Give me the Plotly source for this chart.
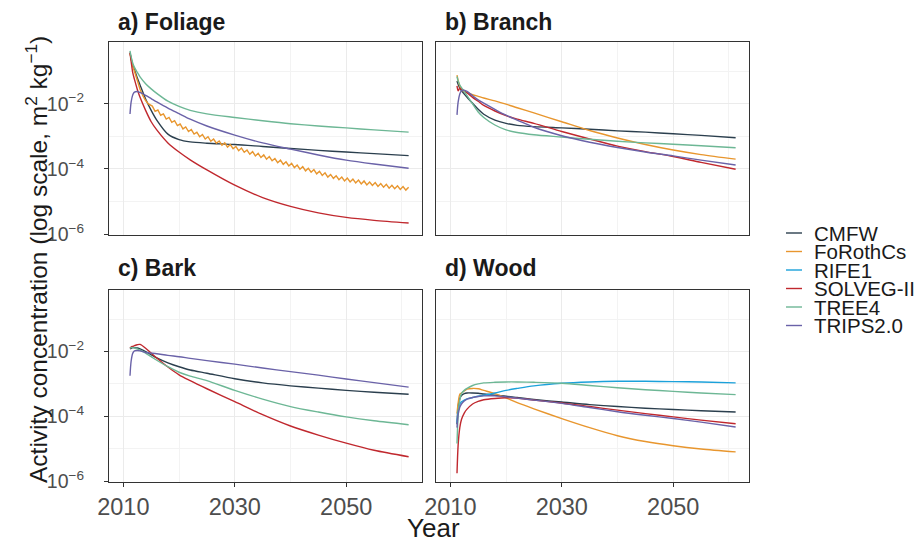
import numpy as np
import plotly.graph_objects as go

# ---------------- data (log10 of activity concentration, m2 kg-1) ----------------
models = ["CMFW", "FoRothCs", "RIFE1", "SOLVEG-II", "TREE4", "TRIPS2.0"]
colors = ["#2B3F4E", "#E8962E", "#1BA1DA", "#C0282E", "#6DB795", "#6A62A8"]
panel_titles = ["a) Foliage", "b) Branch", "c) Bark", "d) Wood"]
x_tick_vals = [2010, 2030, 2050]
x_minor_vals = [2020, 2040, 2060]
y_tick_exps = [-6, -4, -2]
y_minor_exps = [-5, -3, -1]

years = [2011.2, 2011.4, 2011.7, 2012, 2012.5, 2013, 2014, 2015, 2016, 2018,
         2020, 2022, 2025, 2030, 2035, 2040, 2045, 2050, 2055, 2061.2]

# a) Foliage
foliage_CMFW = [-0.43, -0.60, -0.82, -0.95, -1.20, -1.42, -1.85, -2.20, -2.50, -2.93,
                -3.10, -3.17, -3.21, -3.25, -3.31, -3.37, -3.43, -3.48, -3.53, -3.59]
foliage_SOLVEG = [-0.43, -0.70, -1.05, -1.25, -1.55, -1.80, -2.20, -2.55, -2.80, -3.20,
                  -3.48, -3.72, -4.03, -4.50, -4.88, -5.15, -5.35, -5.49, -5.58, -5.66]
foliage_TREE4 = [-0.37, -0.55, -0.75, -0.88, -1.03, -1.17, -1.38, -1.54, -1.68, -1.92,
                 -2.08, -2.20, -2.31, -2.42, -2.52, -2.61, -2.68, -2.74, -2.80, -2.87]
foliage_TRIPS = [-2.31, -1.95, -1.72, -1.64, -1.62, -1.65, -1.74, -1.84, -1.94, -2.13,
                 -2.30, -2.47, -2.68, -2.96, -3.20, -3.39, -3.57, -3.73, -3.85, -3.98]
# FoRothCs foliage: early decline, then annual peaks (year+0.2) and troughs (year+0.7)
foliage_FoRoth_early_years = [2011.2, 2011.4, 2011.7, 2012, 2012.5, 2013, 2013.5, 2014, 2014.5]
foliage_FoRoth_early = [-0.45, -0.62, -0.85, -1.00, -1.30, -1.55, -1.75, -1.90, -2.00]
foliage_FoRoth_peaks = [-2.07, -2.19, -2.31, -2.42, -2.52, -2.62, -2.71, -2.79, -2.87, -2.94,
                        -3.01, -3.08, -3.14, -3.20, -3.25, -3.31, -3.36, -3.42, -3.47, -3.52,
                        -3.57, -3.62, -3.68, -3.73, -3.78, -3.83, -3.88, -3.93, -3.98, -4.02,
                        -4.07, -4.12, -4.17, -4.21, -4.25, -4.28, -4.31, -4.34, -4.37, -4.40,
                        -4.42, -4.45, -4.47, -4.50, -4.52, -4.54, -4.56]
foliage_FoRoth_troughs = [-2.23, -2.35, -2.47, -2.57, -2.67, -2.77, -2.85, -2.93, -3.01, -3.08,
                          -3.15, -3.21, -3.27, -3.33, -3.38, -3.44, -3.49, -3.55, -3.60, -3.65,
                          -3.70, -3.75, -3.81, -3.86, -3.91, -3.96, -4.01, -4.06, -4.10, -4.15,
                          -4.20, -4.25, -4.29, -4.33, -4.37, -4.40, -4.43, -4.46, -4.49, -4.51,
                          -4.54, -4.56, -4.59, -4.61, -4.63, -4.65]

# b) Branch
branch_CMFW = [-1.30, -1.40, -1.52, -1.60, -1.70, -1.80, -1.98, -2.17, -2.32, -2.50,
               -2.60, -2.66, -2.70, -2.74, -2.78, -2.83, -2.87, -2.92, -2.97, -3.04]
branch_FoRoth = [-1.12, -1.28, -1.45, -1.55, -1.62, -1.66, -1.72, -1.77, -1.82, -1.91,
                 -2.01, -2.12, -2.28, -2.55, -2.82, -3.05, -3.25, -3.42, -3.56, -3.70]
branch_SOLVEG = [-1.45, -1.60, -1.52, -1.55, -1.60, -1.66, -1.80, -1.92, -2.05, -2.22,
                 -2.36, -2.47, -2.60, -2.85, -3.08, -3.30, -3.47, -3.62, -3.80, -4.01]
branch_TREE4 = [-1.16, -1.30, -1.42, -1.50, -1.62, -1.75, -2.00, -2.25, -2.42, -2.65,
                -2.80, -2.88, -2.95, -3.02, -3.09, -3.15, -3.20, -3.24, -3.29, -3.35]
branch_TRIPS = [-2.34, -1.95, -1.70, -1.60, -1.58, -1.62, -1.75, -1.88, -1.98, -2.17,
                -2.35, -2.50, -2.72, -2.98, -3.18, -3.34, -3.48, -3.60, -3.73, -3.88]

# c) Bark
bark_CMFW = [-1.92, -1.90, -1.88, -1.88, -1.89, -1.92, -2.00, -2.10, -2.20, -2.35,
             -2.47, -2.57, -2.67, -2.84, -2.97, -3.06, -3.13, -3.20, -3.26, -3.32]
bark_SOLVEG = [-1.90, -1.86, -1.84, -1.82, -1.79, -1.78, -1.90, -2.05, -2.20, -2.48,
               -2.72, -2.90, -3.15, -3.55, -3.95, -4.30, -4.58, -4.83, -5.05, -5.25]
bark_TREE4 = [-1.90, -1.88, -1.88, -1.89, -1.92, -1.96, -2.05, -2.16, -2.27, -2.47,
              -2.64, -2.76, -2.90, -3.20, -3.47, -3.70, -3.87, -4.02, -4.14, -4.26]
bark_TRIPS = [-2.75, -2.30, -2.05, -1.98, -1.97, -1.98, -2.03, -2.05, -2.07, -2.12,
              -2.16, -2.21, -2.28, -2.39, -2.51, -2.62, -2.73, -2.85, -2.96, -3.10]

# d) Wood
wood_CMFW = [-4.25, -3.70, -3.45, -3.36, -3.30, -3.28, -3.28, -3.29, -3.31, -3.35,
             -3.38, -3.42, -3.48, -3.56, -3.64, -3.70, -3.75, -3.79, -3.83, -3.87]
wood_FoRoth = [-3.92, -3.60, -3.32, -3.28, -3.22, -3.16, -3.14, -3.15, -3.20, -3.30,
               -3.43, -3.58, -3.77, -4.07, -4.35, -4.60, -4.78, -4.91, -5.01, -5.10]
wood_RIFE1 = [-4.20, -3.85, -3.62, -3.55, -3.50, -3.46, -3.42, -3.38, -3.35, -3.28,
              -3.20, -3.14, -3.06, -2.98, -2.94, -2.92, -2.92, -2.93, -2.94, -2.97]
wood_SOLVEG = [-5.76, -4.90, -4.35, -4.10, -3.90, -3.78, -3.62, -3.54, -3.49, -3.45,
               -3.43, -3.44, -3.50, -3.59, -3.70, -3.81, -3.92, -4.02, -4.12, -4.23]
wood_TREE4 = [-4.84, -4.00, -3.50, -3.30, -3.20, -3.14, -3.05, -3.00, -2.97, -2.95,
              -2.94, -2.94, -2.95, -2.98, -3.05, -3.12, -3.18, -3.23, -3.28, -3.33]
wood_TRIPS = [-4.35, -3.95, -3.72, -3.62, -3.53, -3.47, -3.42, -3.39, -3.37, -3.37,
              -3.40, -3.44, -3.50, -3.60, -3.73, -3.86, -3.97, -4.07, -4.18, -4.33]

# ---------------- assemble ----------------
peak_years = [y + 0.2 for y in range(2015, 2062)]
trough_years = [y + 0.7 for y in range(2015, 2061)]
zig_pts = sorted(list(zip(peak_years, foliage_FoRoth_peaks)) + list(zip(trough_years, foliage_FoRoth_troughs)))
foliage_FoRoth_years = foliage_FoRoth_early_years + [p[0] for p in zig_pts]
foliage_FoRoth = foliage_FoRoth_early + [p[1] for p in zig_pts]

panels = [
    [("CMFW", years, foliage_CMFW), ("FoRothCs", foliage_FoRoth_years, foliage_FoRoth),
     ("SOLVEG-II", years, foliage_SOLVEG), ("TREE4", years, foliage_TREE4), ("TRIPS2.0", years, foliage_TRIPS)],
    [("CMFW", years, branch_CMFW), ("FoRothCs", years, branch_FoRoth),
     ("SOLVEG-II", years, branch_SOLVEG), ("TREE4", years, branch_TREE4), ("TRIPS2.0", years, branch_TRIPS)],
    [("CMFW", years, bark_CMFW), ("SOLVEG-II", years, bark_SOLVEG),
     ("TREE4", years, bark_TREE4), ("TRIPS2.0", years, bark_TRIPS)],
    [("CMFW", years, wood_CMFW), ("FoRothCs", years, wood_FoRoth), ("RIFE1", years, wood_RIFE1),
     ("SOLVEG-II", years, wood_SOLVEG), ("TREE4", years, wood_TREE4), ("TRIPS2.0", years, wood_TRIPS)],
]

W, H = 921, 543
FONT = "Liberation Sans, Arial, sans-serif"
color_of = dict(zip(models, colors))

fig = go.Figure()
for i, series in enumerate(panels):
    suffix = "" if i == 0 else str(i + 1)
    for name, xs, vals in series:
        zig = (i == 0 and name == "FoRothCs")
        line = dict(color=color_of[name], width=1.4, shape="linear" if zig else "spline")
        if not zig:
            line["smoothing"] = 0.8
        fig.add_trace(go.Scatter(
            x=xs, y=np.power(10.0, vals), mode="lines", name=name, showlegend=False,
            line=line, xaxis="x" + suffix, yaxis="y" + suffix, hoverinfo="skip"))

# ---------------- layout ----------------
def fx(p):
    return p / W

def fy(p):
    return 1 - p / H

x_doms = [(109, 422), (436, 749), (109, 422), (436, 749)]
y_doms = [(42, 235), (42, 235), (290, 482), (290, 482)]

layout = dict(width=W, height=H, margin=dict(l=0, r=0, t=0, b=0),
              paper_bgcolor="white", plot_bgcolor="white", showlegend=False,
              font=dict(family=FONT, color="#1A1A1A"))

grid_major = "#EBEBEB"
grid_minor = "#F3F3F3"
for i in range(4):
    suffix = "" if i == 0 else str(i + 1)
    bottom = i >= 2
    left = i in (0, 2)
    layout["xaxis" + suffix] = dict(
        domain=[fx(x_doms[i][0]), fx(x_doms[i][1])], anchor="y" + suffix,
        range=[2007.43, 2063.6], tickmode="array", tickvals=x_tick_vals,
        showticklabels=bottom, ticks="outside" if bottom else "", ticklen=4,
        tickcolor="#333333", tickwidth=1, ticklabelstandoff=0, automargin=False,
        tickfont=dict(size=23.5, color="#4D4D4D", family=FONT),
        showgrid=True, gridcolor=grid_major, gridwidth=1.1, zeroline=False,
        minor=dict(tickmode="array", tickvals=x_minor_vals, showgrid=True,
                   gridcolor=grid_minor, gridwidth=0.7, ticks=""),
        showline=True, mirror=True, linecolor="#333333", linewidth=1)
    layout["yaxis" + suffix] = dict(
        domain=[fy(y_doms[i][1]), fy(y_doms[i][0])], anchor="x" + suffix,
        type="log", range=[-6.03, -0.1], tickmode="array",
        tickvals=[10.0 ** e for e in y_tick_exps],
        ticktext=["10<sup>\u2212%d</sup>" % (-e) for e in y_tick_exps],
        showticklabels=left, ticks="outside" if left else "", ticklen=4,
        tickcolor="#333333", tickwidth=1, ticklabelstandoff=16, automargin=False,
        tickfont=dict(size=19.5, color="#4D4D4D", family=FONT),
        showgrid=True, gridcolor=grid_major, gridwidth=1.1, zeroline=False,
        minor=dict(tickmode="array", tickvals=[10.0 ** e for e in y_minor_exps], showgrid=True,
                   gridcolor=grid_minor, gridwidth=0.7, ticks=""),
        showline=True, mirror=True, linecolor="#333333", linewidth=1)

annotations = []
title_pos = [(116, 22), (443, 22), (116, 268), (443, 268)]
for (tx, ty), t in zip(title_pos, panel_titles):
    annotations.append(dict(text="<b>%s</b>" % t, x=fx(tx), y=fy(ty), xref="paper", yref="paper",
                            xanchor="left", yanchor="middle", showarrow=False,
                            font=dict(size=23, color="#1A1A1A", family=FONT)))
annotations.append(dict(text="Year", x=fx(433), y=fy(545), xref="paper", yref="paper",
                        xanchor="center", yanchor="bottom", showarrow=False,
                        font=dict(size=26, color="#1A1A1A", family=FONT)))
annotations.append(dict(text="Activity concentration (log scale, m<sup>2</sup> kg<sup>\u22121</sup>)",
                        x=fx(36), y=fy(260), xref="paper", yref="paper", textangle=-90,
                        xanchor="center", yanchor="middle", showarrow=False,
                        font=dict(size=24.5, color="#1A1A1A", family=FONT)))

# legend (key lines + labels)
shapes = []
leg_top, leg_step = 233, 18.5
for k, (name, col) in enumerate(zip(models, colors)):
    yy = leg_top + k * leg_step
    shapes.append(dict(type="line", xref="paper", yref="paper", x0=fx(786), x1=fx(802),
                       y0=fy(yy), y1=fy(yy), line=dict(color=col, width=1.4)))
    annotations.append(dict(text=name, x=fx(812), y=fy(yy), xref="paper", yref="paper",
                            xanchor="left", yanchor="middle", showarrow=False,
                            font=dict(size=20.5, color="#1A1A1A", family=FONT)))

layout["annotations"] = annotations
layout["shapes"] = shapes
fig.update_layout(**layout)
fig.write_html("out.html", config={"displayModeBar": False},
               post_script="document.body.style.margin='0';document.body.style.overflow='hidden';")
